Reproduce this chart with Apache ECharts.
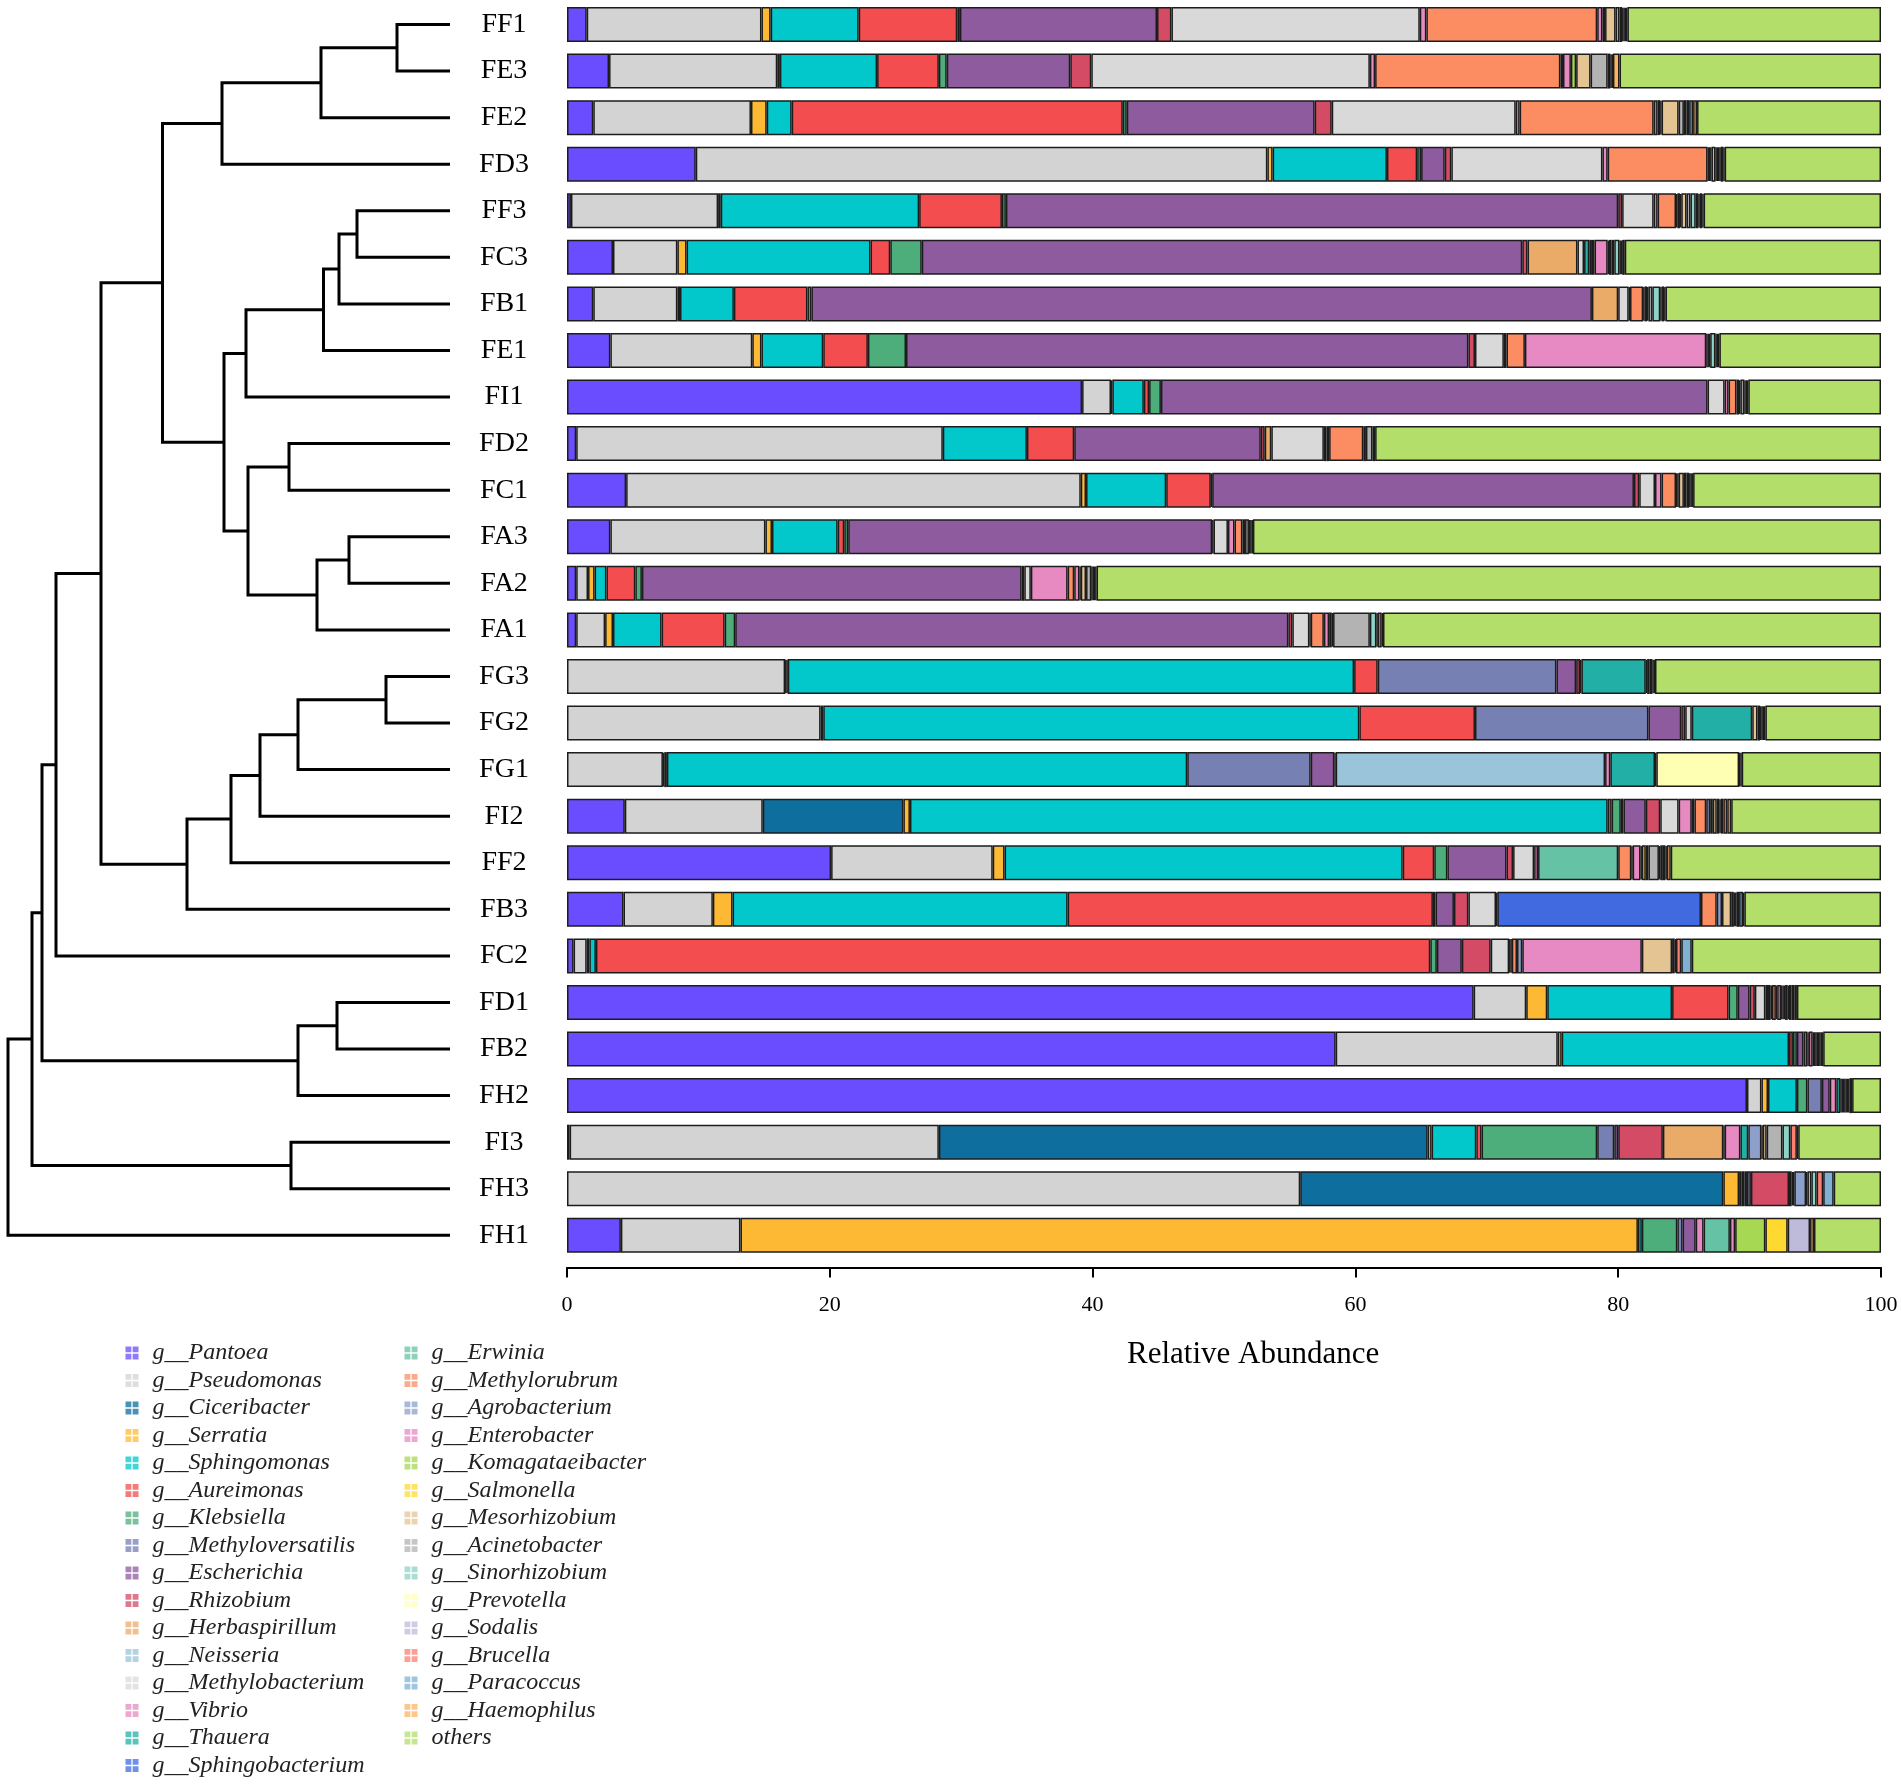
<!DOCTYPE html>
<html><head><meta charset="utf-8">
<script src="https://cdn.jsdelivr.net/npm/echarts@6/dist/echarts.min.js"></script>
<style>html,body{margin:0;padding:0;background:#fff}#c{width:1902px;height:1784px}</style>
</head><body><div id="c"></div>
<script>
const samples = ['FF1','FE3','FE2','FD3','FF3','FC3','FB1','FE1','FI1','FD2','FC1','FA3','FA2','FA1','FG3','FG2','FG1','FI2','FF2','FB3','FC2','FD1','FB2','FH2','FI3','FH3','FH1'];
const genera = ['g__Pantoea','g__Pseudomonas','g__Ciceribacter','g__Serratia','g__Sphingomonas','g__Aureimonas','g__Klebsiella','g__Methyloversatilis','g__Escherichia','g__Rhizobium','g__Herbaspirillum','g__Neisseria','g__Methylobacterium','g__Vibrio','g__Thauera','g__Sphingobacterium','g__Erwinia','g__Methylorubrum','g__Agrobacterium','g__Enterobacter','g__Komagataeibacter','g__Salmonella','g__Mesorhizobium','g__Acinetobacter','g__Sinorhizobium','g__Prevotella','g__Sodalis','g__Brucella','g__Paracoccus','g__Haemophilus','others'];
const colors = ['#6A4DFF','#D3D3D3','#0E6E9E','#FDB933','#03C8CB','#F44D4F','#4DAE7C','#7780B3','#8E5B9F','#D34B65','#EBAB68','#9AC4D9','#D9D9D9','#E88AC2','#22B0A6','#4169E0','#66C2A5','#FC8D62','#8DA0CB','#E78AC3','#A6D854','#FFD92F','#E5C494','#B3B3B3','#8DD3C7','#FFFFB3','#BEBADA','#FB8072','#80B1D3','#FDB462','#B3DE69'];

// relative abundance (%) per sample, in genera order
const FF1 = [1.5,13.3,0,0.7,6.7,7.5,0.2,0,15.0,1.1,0,0,18.9,0.5,0,0,0,13.0,0,0.4,0.2,0,0.8,0.3,0.2,0,0.1,0.1,0.1,0.1,19.3];
const FE3 = [3.2,12.8,0,0.2,7.4,4.7,0.6,0,9.4,1.6,0,0,21.2,0.4,0,0,0,14.1,0.2,0.6,0.4,0,1.1,1.3,0.2,0,0.1,0.1,0,0.5,19.9];
const FE2 = [2.0,12.0,0,1.2,1.9,25.2,0.3,0,14.3,1.3,0,0,14.0,0.3,0,0,0,10.2,0.3,0.2,0.1,0,1.3,0.4,0.2,0,0,0.2,0.3,0.3,14.0];
const FD3 = [9.8,43.5,0,0.4,8.7,2.3,0.3,0,1.8,0.5,0,0,11.5,0.4,0,0,0,7.6,0.1,0.1,0.1,0,0.3,0.1,0.1,0,0.1,0.1,0.2,0.1,11.9];
const FF3 = [0.3,11.2,0,0.2,15.1,6.3,0.3,0,46.6,0.3,0,0,2.4,0.3,0,0,0,1.4,0.1,0.2,0.1,0,0.4,0.3,0.4,0,0.2,0.1,0.2,0.1,13.5];
const FC3 = [3.5,4.9,0,0.7,14.0,1.5,2.4,0,45.7,0.4,3.8,0,0.5,0,0.4,0,0.2,0,0.2,1.0,0.1,0,0.2,0.2,0.4,0,0.1,0.1,0,0.2,19.5];
const FB1 = [2.0,6.4,0,0.2,4.1,5.6,0.3,0,59.4,0,2.0,0,0.8,0.1,0,0,0,1.0,0,0,0.1,0.2,0.1,0.3,0.6,0,0.1,0,0.2,0.1,16.4];
const FE1 = [3.3,10.8,0,0.7,4.7,3.4,2.9,0,42.8,0.5,0,0,2.2,0,0,0,0.2,1.4,0,13.8,0.1,0,0.1,0.1,0.4,0,0.1,0.1,0,0.1,12.3];
const FI1 = [39.2,2.2,0,0.1,2.4,0.4,0.9,0,41.6,0,0,0,1.3,0.3,0,0,0,0.6,0,0.2,0,0,0.1,0.3,0.1,0,0.1,0,0,0.1,10.1];
const FD2 = [0.7,27.9,0,0,6.4,3.6,0,0,14.2,0.3,0.5,0,4.0,0.2,0,0,0.2,2.6,0,0,0.2,0,0,0.5,0,0,0,0,0,0.2,38.5];
const FC1 = [4.5,34.6,0,0.4,6.1,3.4,0.1,0,32.1,0.4,0,0,1.2,0.5,0,0,0,1.1,0.1,0,0.1,0,0.4,0.2,0.2,0,0.1,0.1,0,0.1,14.3];
const FA3 = [3.3,11.8,0,0.5,5.0,0.5,0.3,0,27.7,0.1,0,0,1.1,0.5,0,0,0,0.6,0,0,0.2,0,0,0.3,0.1,0,0,0.1,0,0.1,47.8];
const FA2 = [0.7,0.9,0,0.5,0.9,2.2,0.5,0,28.9,0.2,0,0,0.5,2.8,0,0,0,0.5,0,0.4,0.1,0,0.4,0.4,0.1,0,0.1,0.1,0,0.1,59.7];
const FA1 = [0.7,2.2,0,0.6,3.7,4.8,0.8,0,42.1,0.3,0,0,1.3,0.1,0,0,0,1.0,0,0.4,0.2,0,0.1,2.8,0.5,0,0.1,0.3,0,0.1,37.9];
const FG3 = [0,16.6,0.1,0.1,43.1,1.8,0,13.6,1.5,0.3,0,0,0.1,0,4.9,0,0,0,0.1,0,0.2,0,0,0.2,0,0,0.1,0,0.1,0,17.2];
const FG2 = [0,19.3,0,0.2,40.8,8.8,0,13.2,2.5,0.3,0,0,0.5,0,4.6,0,0,0,0,0,0,0,0.4,0.2,0,0.1,0.1,0,0.1,0.1,8.8];
const FG1 = [0,7.3,0.1,0.2,39.6,0,0,9.4,1.8,0.1,0,20.5,0,0.4,3.4,0,0,0,0,0,0,0,0,0.1,0,6.3,0.1,0,0,0.1,10.6];
const FI2 = [4.4,10.5,10.7,0.5,53.1,0.3,0.7,0.2,1.7,1.1,0,0,1.4,1.0,0.2,0,0,0.9,0.3,0,0.2,0,0.3,0.2,0.1,0,0.2,0.3,0,0.3,11.4];
const FF2 = [20.1,12.3,0,0.9,30.3,2.4,1.0,0,4.5,0.5,0,0,1.6,0.3,0,0,6.1,1.0,0.1,0.6,0.1,0.3,0.2,0.8,0.1,0,0.2,0.2,0.1,0.3,16.0];
const FB3 = [4.3,6.8,0,1.5,25.5,27.8,0.2,0,1.4,1.1,0,0,2.1,0,0.1,15.5,0,1.2,0.4,0,0,0,0.7,0.2,0.1,0,0.1,0.2,0.3,0.1,10.4];
const FC2 = [0.5,1.0,0,0.2,0.5,63.5,0.5,0,1.9,2.2,0,0,1.4,0.1,0,0,0.1,0.4,0.4,9.1,0,0,2.3,0.2,0,0,0.1,0.4,0.8,0,14.4];
const FD1 = [69.0,4.0,0,1.6,9.5,4.3,0.7,0,0.9,0.4,0,0,0.8,0.2,0.2,0,0.1,0.3,0.1,0.3,0.1,0.1,0.1,0.2,0.1,0,0.2,0.2,0,0.2,6.4];
const FB2 = [58.5,16.9,0,0.3,17.3,0.3,0.3,0,0.5,0.3,0,0,0.1,0.3,0,0,0.1,0.1,0,0.1,0.1,0,0.1,0.1,0,0,0.1,0,0,0.1,4.4];
const FH2 = [89.8,1.1,0,0.5,2.2,0,0.8,1.1,0.6,0,0,0,0,0.5,0.3,0,0,0.1,0.1,0.1,0.1,0,0,0.1,0,0,0.1,0,0.1,0.2,2.2];
const FI3 = [0.2,28.1,37.2,0.3,3.4,0.4,8.8,1.3,0.3,3.4,4.6,0,0.1,1.2,0.6,0,0,0,1.0,0,0.1,0,0.3,1.2,0.6,0,0,0.5,0,0.1,6.3];
const FH3 = [0,55.8,32.2,1.2,0.2,0.2,0.2,0.3,0,2.9,0,0,0.2,0,0.1,0,0,0.1,0.9,0,0.1,0,0.3,0,0.4,0,0,0.5,0.8,0,3.6];
const FH1 = [4.1,9.1,0,68.3,0.3,0,2.7,0.4,1.0,0,0,0,0,0.6,0,0,2.0,0,0,0.4,2.3,1.7,0,0,0,0,1.7,0,0,0.3,5.1];
const sampleRows = [FF1,FE3,FE2,FD3,FF3,FC3,FB1,FE1,FI1,FD2,FC1,FA3,FA2,FA1,FG3,FG2,FG1,FI2,FF2,FB3,FC2,FD1,FB2,FH2,FI3,FH3,FH1];

// hierarchical clustering merges: [node, childA, childB, height]
const dendroMerges = [
 ['n1','FF1','FE3',53], ['n2','n1','FE2',129], ['n3','n2','FD3',228],
 ['n4','FF3','FC3',93], ['n5','n4','FB1',111], ['n6','n5','FE1',126.5], ['n7','n6','FI1',204],
 ['n8','FD2','FC1',161], ['n9','FA3','FA2',101], ['n10','n9','FA1',133], ['n11','n8','n10',202],
 ['n12','n7','n11',226], ['n13','n3','n12',287.5],
 ['n14','FG3','FG2',64], ['n15','n14','FG1',152], ['n16','n15','FI2',190], ['n17','n16','FF2',219], ['n18','n17','FB3',263],
 ['n19','n13','n18',349], ['n20','n19','FC2',394],
 ['n21','FD1','FB2',113], ['n22','n21','FH2',152], ['n23','n20','n22',408],
 ['n24','FI3','FH3',159], ['n25','n23','n24',418], ['n26','n25','FH1',442]
];

const FONT = '"Liberation Serif","Times New Roman",serif';

// node positions for dendrogram
const nodePos = {}, nodeH = {};
samples.forEach((s, i) => { nodePos[s] = i; nodeH[s] = 0; });
const dendroData = dendroMerges.map(([n, a, b, h]) => {
  nodePos[n] = (nodePos[a] + nodePos[b]) / 2; nodeH[n] = h;
  return [h, nodePos[a], nodeH[a], nodePos[b], nodeH[b]];
});

const barSeries = genera.map((g, gi) => ({
  name: g, type: 'bar', stack: 'all', xAxisIndex: 0, yAxisIndex: 0,
  barWidth: 35,
  data: sampleRows.map(r => r[gi] === 0 ? null : r[gi]),
  itemStyle: { color: colors[gi], borderColor: '#1c1c1c', borderWidth: 1.5 },
  emphasis: { disabled: true }
}));

const dendroSeries = {
  type: 'custom', xAxisIndex: 1, yAxisIndex: 1, clip: false,
  encode: { x: [0, 2], y: [1, 3] },
  data: dendroData,
  renderItem: (params, api) => {
    const h = api.value(0), yA = api.value(1), hA = api.value(2), yB = api.value(3), hB = api.value(4);
    return {
      type: 'polyline',
      shape: { points: [api.coord([hA, yA]), api.coord([h, yA]), api.coord([h, yB]), api.coord([hB, yB])] },
      style: { stroke: '#000', lineWidth: 3, fill: 'none', lineJoin: 'miter' }
    };
  }
};

const legendBase = {
  orient: 'vertical', top: 1341, padding: 0, itemWidth: 31, itemHeight: 13, itemGap: 3.5,
  icon: 'path://M0,0h9v9h-9z M11,0h9v9h-9z M0,11h9v9h-9z M11,11h9v9h-9z',
  itemStyle: { borderWidth: 0, opacity: 0.75 },
  textStyle: { fontFamily: FONT, fontStyle: 'italic', fontSize: 24, lineHeight: 24, color: '#222' },
  selectedMode: false
};

const chart = echarts.init(document.getElementById('c'), null, { renderer: 'canvas' });
chart.setOption({
  backgroundColor: '#fff',
  animation: false,
  grid: [
    { left: 567, width: 1314, top: 1.2, height: 1257.4 },
    { left: 8, width: 442, top: 1.2, height: 1257.4 }
  ],
  xAxis: [
    { type: 'value', gridIndex: 0, min: 0, max: 100, interval: 20, offset: 9,
      axisLine: { show: true, lineStyle: { color: '#000', width: 2 } },
      axisTick: { show: true, length: 10, lineStyle: { color: '#000', width: 2 } },
      axisLabel: { fontFamily: FONT, fontSize: 22, color: '#000', margin: 27 },
      splitLine: { show: false } },
    { type: 'value', gridIndex: 1, min: 0, max: 442, inverse: true, show: false }
  ],
  yAxis: [
    { type: 'category', gridIndex: 0, data: samples, inverse: true,
      axisLine: { show: false }, axisTick: { show: false },
      axisLabel: { fontFamily: FONT, fontSize: 28, color: '#000', align: 'center', margin: 63 } },
    { type: 'value', gridIndex: 1, min: -0.5, max: 26.5, inverse: true, show: false }
  ],
  legend: [
    Object.assign({}, legendBase, { left: 125.5, data: genera.slice(0, 16) }),
    Object.assign({}, legendBase, { left: 404.5, data: genera.slice(16) })
  ],
  graphic: [{
    type: 'text', left: 1257 - 130, top: 1339,
    style: { text: 'Relative Abundance', font: '31px ' + FONT, fill: '#000' }
  }],
  series: barSeries.concat([dendroSeries])
});
</script></body></html>
